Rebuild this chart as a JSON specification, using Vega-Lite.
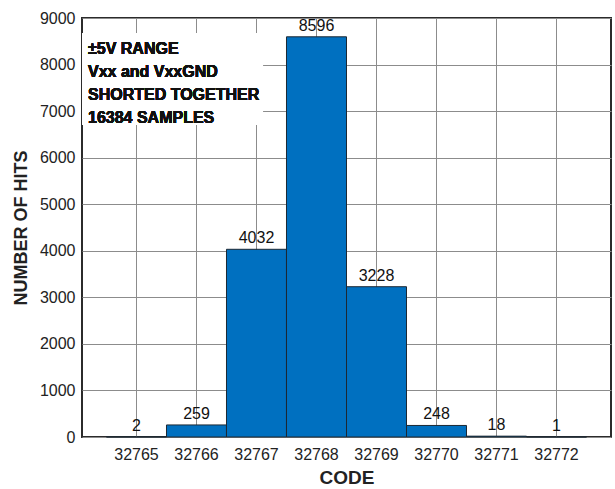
{
  "$schema": "https://vega.github.io/schema/vega-lite/v6.json",
  "width": 529,
  "height": 419,
  "autosize": {"type": "none"},
  "padding": {"left": 82, "top": 18, "right": 4, "bottom": 52},
  "background": "white",
  "config": {
    "font": "Liberation Sans",
    "view": {"stroke": "#2b2b2b", "strokeWidth": 2},
    "axis": {
      "domain": false,
      "ticks": false,
      "grid": true,
      "gridColor": "#8c8c8c",
      "gridWidth": 1,
      "labelFont": "Liberation Sans",
      "labelFontSize": 16,
      "labelColor": "#222222",
      "titleFont": "Liberation Sans",
      "titleFontWeight": "bold",
      "titleColor": "#222222"
    }
  },
  "data": {
    "values": [
      {"code": "32765", "hits": 2},
      {"code": "32766", "hits": 259},
      {"code": "32767", "hits": 4032},
      {"code": "32768", "hits": 8596},
      {"code": "32769", "hits": 3228},
      {"code": "32770", "hits": 248},
      {"code": "32771", "hits": 18},
      {"code": "32772", "hits": 1}
    ]
  },
  "resolve": {"scale": {"x": "independent"}},
  "layer": [
    {
      "layer": [
        {
          "mark": {"type": "bar", "fill": "#0070c0", "stroke": "#1c2833", "strokeWidth": 1},
          "encoding": {
            "x": {
              "field": "code",
              "type": "ordinal",
              "scale": {"paddingInner": 0, "paddingOuter": 0.408},
              "axis": {
                "title": "CODE",
                "titleFontSize": 19,
                "labelAngle": 0,
                "labelPadding": 9,
                "titlePadding": 6,
                "bandPosition": 0.5
              }
            },
            "y": {
              "field": "hits",
              "type": "quantitative",
              "scale": {"domain": [0, 9000], "nice": false},
              "axis": {
                "title": "NUMBER OF HITS",
                "titleFontSize": 18,
                "format": "d",
                "values": [0, 1000, 2000, 3000, 4000, 5000, 6000, 7000, 8000, 9000],
                "labelPadding": 7,
                "titlePadding": 9
              }
            }
          }
        },
        {
          "mark": {"type": "text", "baseline": "bottom", "dy": -3, "fontSize": 16, "color": "#111111", "font": "Liberation Sans"},
          "encoding": {
            "x": {"field": "code", "type": "ordinal"},
            "y": {"field": "hits", "type": "quantitative"},
            "text": {"field": "hits", "type": "quantitative", "format": "d"}
          }
        }
      ]
    },
    {
      "layer": [
        {
          "mark": {"type": "rect", "fill": "white", "stroke": null},
          "encoding": {
            "x": {"datum": 32764.083, "type": "quantitative", "scale": {"domain": [32764.083, 32772.9], "nice": false, "zero": false}, "axis": null},
            "x2": {"datum": 32767.1},
            "y": {"datum": 8680, "type": "quantitative"},
            "y2": {"datum": 6700}
          }
        },
        {
          "mark": {"type": "text", "align": "left", "baseline": "top", "fontSize": 16, "fontWeight": "bold", "lineHeight": 23.3, "color": "#111111", "font": "Liberation Sans"},
          "encoding": {
            "x": {"datum": 32764.183, "type": "quantitative", "scale": {"domain": [32764.083, 32772.9], "nice": false, "zero": false}, "axis": null},
            "y": {"datum": 8515, "type": "quantitative"},
            "text": {"value": ["±5V RANGE", "Vxx and VxxGND", "SHORTED TOGETHER", "16384 SAMPLES"]}
          }
        }
      ]
    }
  ]
}
